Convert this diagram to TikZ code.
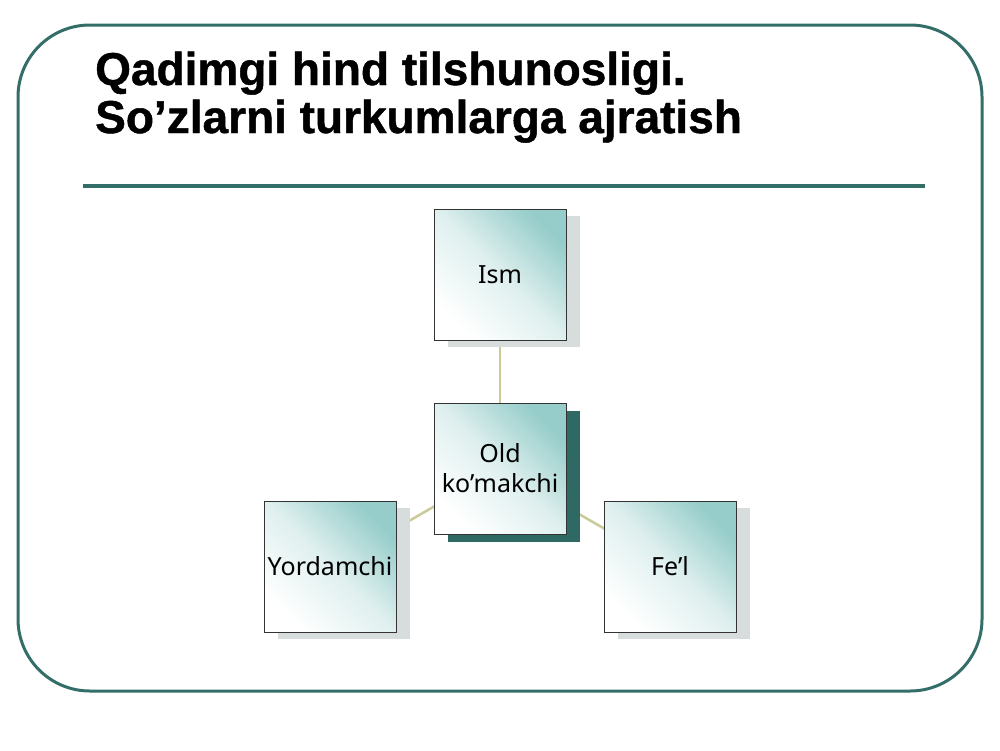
\documentclass[tikz,border=0pt]{standalone}
\usepackage{fontspec}
\setmainfont{Liberation Sans}
\newfontfamily\titlefont[FakeBold=1]{Liberation Sans Bold}
\newfontfamily\boxfont{Noto Sans}
\usetikzlibrary{shadows,backgrounds}
\definecolor{frameteal}{HTML}{336E69}
\definecolor{boxteal}{HTML}{96CDCA}
\definecolor{shadowgrey}{HTML}{D6DDDC}
\definecolor{shadowdark}{HTML}{2F6964}
\definecolor{connolive}{HTML}{CACB98}
\tikzset{
  frame/.style={draw=frameteal, line width=3pt, rounded corners=72pt},
  rule/.style={draw=frameteal, line width=4pt},
  titletext/.style={anchor=base west, inner sep=0pt, font=\titlefont\fontsize{46}{46}\selectfont},
  wordbox/.style={draw=black!80, line width=0.8pt, minimum width=132pt, minimum height=131pt,
    inner sep=0pt, align=center, font=\boxfont\fontsize{25}{30}\selectfont,
    top color=boxteal, bottom color=white, middle color=boxteal!30, shading angle=-45},
  lightshadow/.style={drop shadow={shadow xshift=14pt, shadow yshift=-7pt, fill=shadowgrey, opacity=1}},
  darkshadow/.style={drop shadow={shadow xshift=14pt, shadow yshift=-8pt, fill=shadowdark, opacity=1}},
  conn/.style={draw=connolive, line width=2.5pt}
}
\begin{document}
\begin{tikzpicture}[x=1pt,y=-1pt]
\useasboundingbox (0,0) rectangle (1000,750);
\begin{pgfonlayer}{background}
\fill[white] (0,0) rectangle (1000,750);
\end{pgfonlayer}
\draw[frame] (18,25) rectangle (982,691);
% title
\node[titletext] (t1) at (95,85) {Qadimgi hind tilshunosligi.};
\node[titletext] (t2) at (95,133) {So’zlarni turkumlarga ajratish};
\draw[rule] (83,186) -- (925,186);
% boxes
\node[wordbox, lightshadow] (ism) at (500,274.5) {Ism};
\node[wordbox, darkshadow] (old) at (500,468.5) {Old\\ko’makchi};
\node[wordbox, lightshadow] (yord) at (330,566.5) {Yordamchi};
\node[wordbox, lightshadow] (fel) at (670,566.5) {Fe’l};
\begin{pgfonlayer}{background}
\draw[conn] (old.center) -- (ism.center);
\draw[conn] (old.center) -- (yord.center);
\draw[conn] (old.center) -- (fel.center);
\end{pgfonlayer}
\end{tikzpicture}
\end{document}
